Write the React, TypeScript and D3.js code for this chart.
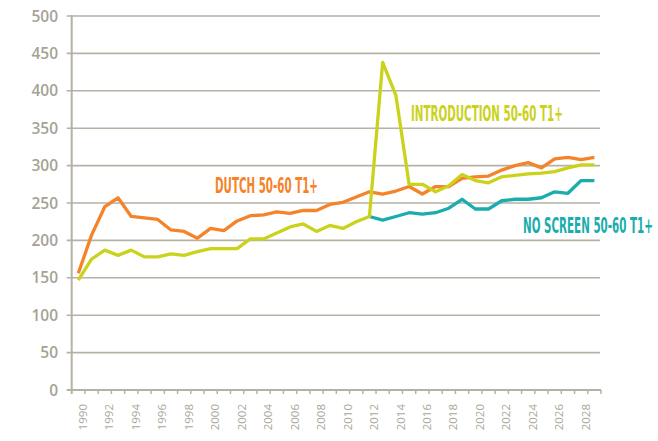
import React, { useEffect, useRef } from 'react';
import * as d3 from 'd3';

const years: number[] = d3.range(1990, 2030);

const dutch: number[] = [
  156, 207, 245, 257, 232, 230, 228, 214, 212, 203,
  216, 213, 226, 233, 234, 238, 236, 240, 240, 248,
  251, 258, 265, 262, 266, 272, 262, 272, 272, 283,
  285, 286, 294, 300, 304, 297, 309, 311, 308, 311,
];

const introduction: number[] = [
  147, 175, 187, 180, 187, 178, 178, 182, 180, 185,
  189, 189, 189, 202, 202, 210, 218, 222, 212, 220,
  216, 225, 232, 438, 394, 275, 275, 265, 273, 288,
  280, 277, 285, 287, 289, 290, 292, 297, 301, 301,
];

// no screening series only starts in 2012
const noScreen: (number | null)[] = [
  null, null, null, null, null, null, null, null, null, null,
  null, null, null, null, null, null, null, null, null, null,
  null, null, 232, 227, 232, 237, 235, 237, 243, 255,
  242, 242, 253, 255, 255, 257, 265, 263, 280, 280,
];

const yTicks: number[] = [0, 50, 100, 150, 200, 250, 300, 350, 400, 450, 500];

const ORANGE = '#F5832A';
const YELLOW = '#CBD21C';
const TEAL = '#1BADAD';
const GRID = '#B5B2A4';
const TEXT = '#A4A394';

const App: React.FC = () => {
  const chartRef = useRef<SVGSVGElement>(null);

  useEffect(() => {
    if (!chartRef.current) return;

    d3.select(chartRef.current).selectAll('*').remove();

    const left = 71.7;
    const right = 601;
    const top = 16;
    const bottom = 390;

    const svg = d3.select(chartRef.current);

    const x = d3.scaleBand<number>()
      .domain(years)
      .range([left, right])
      .padding(0);

    const y = d3.scaleLinear()
      .domain([0, 500])
      .range([bottom, top]);

    const cx = (d: number) => (x(d) as number) + x.bandwidth() / 2;

    // gridlines
    svg.append('g')
      .selectAll('line')
      .data(yTicks.filter(t => t > 0))
      .enter()
      .append('line')
      .attr('x1', left - 5)
      .attr('x2', right - 1)
      .attr('y1', d => y(d))
      .attr('y2', d => y(d))
      .attr('stroke', GRID)
      .attr('stroke-width', 1.6);

    // y axis line
    svg.append('line')
      .attr('x1', left)
      .attr('x2', left)
      .attr('y1', y(500) - 1)
      .attr('y2', bottom + 4)
      .attr('stroke', GRID)
      .attr('stroke-width', 2);

    // x axis line + ticks between categories
    svg.append('line')
      .attr('x1', left - 5)
      .attr('x2', right)
      .attr('y1', bottom)
      .attr('y2', bottom)
      .attr('stroke', GRID)
      .attr('stroke-width', 2);

    svg.append('g')
      .selectAll('line')
      .data(years.slice(1).concat([2030]))
      .enter()
      .append('line')
      .attr('x1', d => (d === 2030 ? right : (x(d) as number)))
      .attr('x2', d => (d === 2030 ? right : (x(d) as number)))
      .attr('y1', bottom)
      .attr('y2', bottom + 4)
      .attr('stroke', GRID)
      .attr('stroke-width', 1.5);

    // y labels
    svg.append('g')
      .selectAll('text')
      .data(yTicks)
      .enter()
      .append('text')
      .attr('x', 58)
      .attr('y', d => y(d))
      .attr('dy', '0.36em')
      .attr('text-anchor', 'end')
      .style('font-family', "'Open Sans', sans-serif")
      .style('font-weight', 600)
      .style('font-size', '15.5px')
      .attr('fill', TEXT)
      .text(d => d);

    // x labels (every other year)
    svg.append('g')
      .selectAll('text')
      .data(years.filter(d => d % 2 === 0))
      .enter()
      .append('text')
      .attr('transform', d => `translate(${cx(d) + 4.5},404) rotate(-90)`)
      .attr('dy', '0.36em')
      .attr('text-anchor', 'end')
      .style('font-family', "'Open Sans', sans-serif")
      .style('font-size', '11.5px')
      .attr('fill', '#A9A89A')
      .text(d => d);

    const line = d3.line<number | null>()
      .defined(d => d !== null)
      .x((_, i) => cx(years[i]))
      .y(d => y(d as number));

    const series: [(number | null)[], string][] = [
      [noScreen, TEAL],
      [dutch, ORANGE],
      [introduction, YELLOW],
    ];

    series.forEach(([values, color]) => {
      svg.append('path')
        .datum(values)
        .attr('d', line)
        .attr('fill', 'none')
        .attr('stroke', color)
        .attr('stroke-width', 3.3)
        .attr('stroke-linejoin', 'round');
    });

    // series labels, squeezed horizontally to the condensed look
    const labels: [string, string, number, number, number][] = [
      ['DUTCH 50-60 T1+', ORANGE, 215, 192.7, 103],
      ['INTRODUCTION 50-60 T1+', YELLOW, 411, 121, 152],
      ['NO SCREEN 50-60 T1+', TEAL, 523, 233.3, 130],
    ];

    labels.forEach(([label, color, lx, ly, len]) => {
      const t = svg.append('text')
        .attr('x', 0)
        .attr('y', 0)
        .style('font-family', "'DejaVu Sans Condensed', 'DejaVu Sans', sans-serif")
        .style('font-stretch', 'condensed')
        .style('font-weight', 'bold')
        .style('font-size', '20.5px')
        .attr('fill', color)
        .text(label);
      const natural = (t.node() as SVGTextElement).getComputedTextLength() || len;
      t.attr('transform', `translate(${lx},${ly}) scale(${len / natural},1)`);
    });
  }, []);

  return (
    <svg
      ref={chartRef}
      width={658}
      height={441}
      style={{ position: 'absolute', left: 0, top: 0, background: '#fff' }}
    ></svg>
  );
};

export default App;
